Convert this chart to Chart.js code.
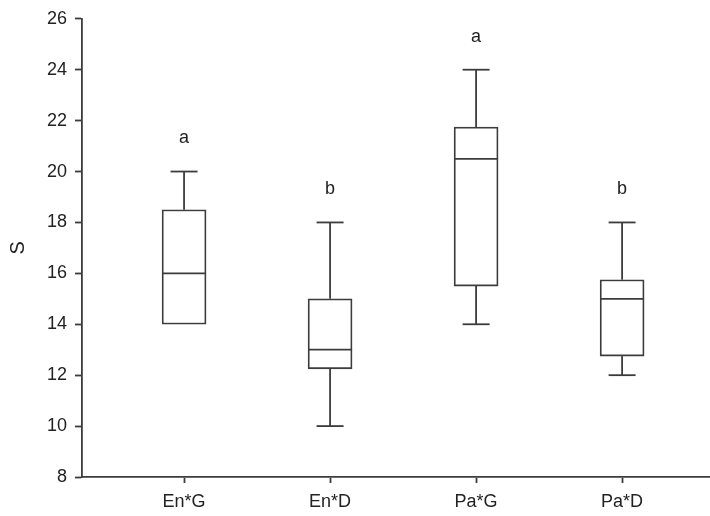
<!DOCTYPE html>
<html>
<head>
<meta charset="utf-8">
<title>S box plot</title>
<script src="https://cdn.jsdelivr.net/npm/chart.js@4/dist/chart.umd.min.js"></script>
<style>
    html, body { margin: 0; padding: 0; background: #fff; }
    #boxChart { display: block; }
</style>
</head>
<body>
<canvas id="boxChart" width="710" height="516"></canvas>
<script>
// groups and their box-plot values
const groups = ['En*G', 'En*D', 'Pa*G', 'Pa*D'];
const whiskerLow = [14, 10, 14, 12];
const quartile1 = [14, 12.25, 15.5, 12.75];
const medians = [16, 13, 20.5, 15];
const quartile3 = [18.5, 15, 21.75, 15.75];
const whiskerHigh = [20, 18, 24, 18];
// significance letters and the value they sit at
const letters = ['a', 'b', 'a', 'b'];
const letterY = [21.3, 19.3, 25.3, 19.3];
const yTicks = [8, 10, 12, 14, 16, 18, 20, 22, 24, 26];

const LINE = '#3c3c3c';
const TEXT = '#222222';
const FONT = 'Arial, "Liberation Sans", sans-serif';
const LW = 1.8;

// whiskers, caps, medians and letters on top of the boxes
const boxExtras = {
    id: 'boxExtras',
    afterDatasetsDraw(chart) {
        const ctx = chart.ctx;
        const x = chart.scales.x;
        const y = chart.scales.y;
        const boxHalf = 22;
        const capHalf = 13.5;
        ctx.save();
        ctx.strokeStyle = LINE;
        ctx.lineWidth = LW;
        groups.forEach((g, i) => {
            const cx = x.getPixelForValue(i + 1);
            const seg = (x1, y1, x2, y2) => {
                ctx.beginPath();
                ctx.moveTo(x1, y1);
                ctx.lineTo(x2, y2);
                ctx.stroke();
            };
            // upper whisker
            if (whiskerHigh[i] > quartile3[i]) {
                seg(cx, y.getPixelForValue(quartile3[i]), cx, y.getPixelForValue(whiskerHigh[i]));
                const py = y.getPixelForValue(whiskerHigh[i]);
                seg(cx - capHalf, py, cx + capHalf, py);
            }
            // lower whisker
            if (whiskerLow[i] < quartile1[i]) {
                seg(cx, y.getPixelForValue(quartile1[i]), cx, y.getPixelForValue(whiskerLow[i]));
                const py = y.getPixelForValue(whiskerLow[i]);
                seg(cx - capHalf, py, cx + capHalf, py);
            }
            // median
            const my = y.getPixelForValue(medians[i]);
            seg(cx - boxHalf, my, cx + boxHalf, my);

            ctx.fillStyle = TEXT;
            ctx.font = '18px ' + FONT;
            ctx.textAlign = 'center';
            ctx.textBaseline = 'middle';
            ctx.fillText(letters[i], cx, y.getPixelForValue(letterY[i]));
        });
        ctx.restore();
    }
};

new Chart(document.getElementById('boxChart').getContext('2d'), {
    type: 'bar',
    data: {
        datasets: [{
            label: 'S',
            data: groups.map((g, i) => ({ x: i + 1, y: [quartile1[i], quartile3[i]] })),
            backgroundColor: '#ffffff',
            borderColor: LINE,
            borderWidth: LW,
            borderSkipped: false,
            barThickness: 44
        }]
    },
    options: {
        responsive: false,
        devicePixelRatio: 1,
        animation: false,
        layout: { padding: { top: 15, right: 0, left: 0, bottom: 0 } },
        plugins: {
            legend: { display: false },
            tooltip: { enabled: false }
        },
        scales: {
            x: {
                type: 'linear',
                offset: false,
                min: 0.301,
                max: 4.602,
                afterBuildTicks(scale) {
                    scale.ticks = groups.map((g, i) => ({ value: i + 1 }));
                },
                afterFit(scale) { scale.height = 39; },
                grid: {
                    offset: false,
                    drawOnChartArea: false,
                    drawTicks: true,
                    tickLength: 6,
                    tickWidth: LW,
                    tickColor: LINE
                },
                border: { display: true, color: LINE, width: LW },
                ticks: {
                    color: TEXT,
                    font: { family: FONT, size: 18 },
                    padding: 8,
                    maxRotation: 0,
                    autoSkip: false,
                    callback: (v) => groups[v - 1] || ''
                }
            },
            y: {
                min: 8,
                max: 26,
                afterBuildTicks(scale) {
                    scale.ticks = yTicks.map(v => ({ value: v }));
                },
                afterFit(scale) { scale.width = 82; },
                grid: {
                    drawOnChartArea: false,
                    drawTicks: true,
                    tickLength: 7,
                    tickWidth: LW,
                    tickColor: LINE
                },
                border: { display: true, color: LINE, width: LW },
                ticks: {
                    color: TEXT,
                    font: { family: FONT, size: 18 },
                    padding: 8
                },
                title: {
                    display: true,
                    text: 'S',
                    color: TEXT,
                    font: { family: FONT, size: 20 },
                    padding: { top: 6, bottom: 0 }
                }
            }
        }
    },
    plugins: [boxExtras]
});
</script>
</body>
</html>
